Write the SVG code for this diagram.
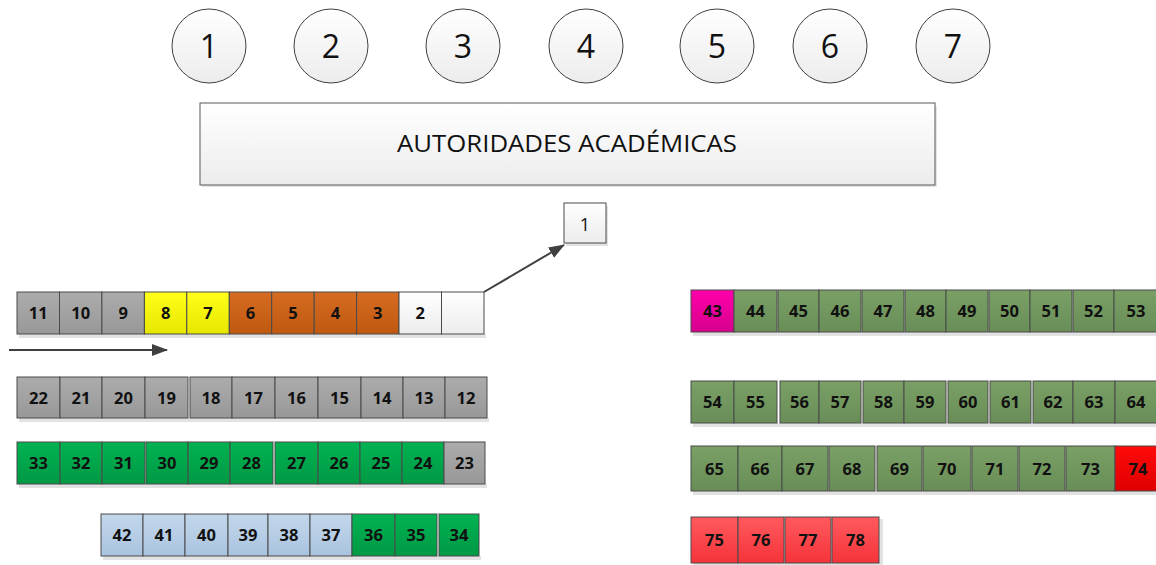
<svg xmlns="http://www.w3.org/2000/svg" width="1156" height="565" viewBox="0 0 1156 565">
<defs>
<linearGradient id="gW" x1="0" y1="0" x2="0" y2="1"><stop offset="0" stop-color="#ffffff"/><stop offset="1" stop-color="#ececec"/></linearGradient>
<linearGradient id="gGray" x1="0" y1="0" x2="0" y2="1"><stop offset="0" stop-color="#acacac"/><stop offset="1" stop-color="#989898"/></linearGradient>
<linearGradient id="gYel" x1="0" y1="0" x2="0" y2="1"><stop offset="0" stop-color="#ffff1a"/><stop offset="1" stop-color="#e6e600"/></linearGradient>
<linearGradient id="gOra" x1="0" y1="0" x2="0" y2="1"><stop offset="0" stop-color="#d66c22"/><stop offset="1" stop-color="#bf5810"/></linearGradient>
<linearGradient id="gGrn" x1="0" y1="0" x2="0" y2="1"><stop offset="0" stop-color="#00b352"/><stop offset="1" stop-color="#009944"/></linearGradient>
<linearGradient id="gOli" x1="0" y1="0" x2="0" y2="1"><stop offset="0" stop-color="#7aa066"/><stop offset="1" stop-color="#698d57"/></linearGradient>
<linearGradient id="gBlu" x1="0" y1="0" x2="0" y2="1"><stop offset="0" stop-color="#c3d7ec"/><stop offset="1" stop-color="#a9c3de"/></linearGradient>
<linearGradient id="gPink" x1="0" y1="0" x2="0" y2="1"><stop offset="0" stop-color="#ff00aa"/><stop offset="1" stop-color="#d6008e"/></linearGradient>
<linearGradient id="gRed" x1="0" y1="0" x2="0" y2="1"><stop offset="0" stop-color="#ff0a0a"/><stop offset="1" stop-color="#e00000"/></linearGradient>
<linearGradient id="gLRed" x1="0" y1="0" x2="0" y2="1"><stop offset="0" stop-color="#ff5a5e"/><stop offset="1" stop-color="#f5333a"/></linearGradient>
<marker id="ah" viewBox="0 0 16 12" refX="15" refY="6" markerWidth="16" markerHeight="12" orient="auto" markerUnits="userSpaceOnUse">
<path d="M0,0 L16,6 L0,12 Z" fill="#404040"/>
</marker>
</defs>
<style>
.c rect{stroke:#4a4a4a;stroke-width:1}
.c text{font-family:"Open Sans","Liberation Sans",sans-serif;font-weight:bold;font-size:16.5px;text-anchor:middle;fill:#111}
.circ circle{fill:url(#gW);stroke:#404040;stroke-width:1}
.circ text{font-family:"Open Sans","Liberation Sans",sans-serif;font-size:32px;text-anchor:middle;fill:#111}
.sh{fill:#e2e2e2}
.gray{fill:url(#gGray)} .yel{fill:url(#gYel)} .ora{fill:url(#gOra)} .grn{fill:url(#gGrn)} .oli{fill:url(#gOli)} .blu{fill:url(#gBlu)} .pink{fill:url(#gPink)} .red{fill:url(#gRed)} .lred{fill:url(#gLRed)} .wht{fill:url(#gW)}
.conn line{stroke:#404040;stroke-width:2}
</style>
<rect width="1156" height="565" fill="#ffffff"/>

<!-- circles -->
<g id="circle1" class="circ"><circle cx="209" cy="46" r="37"/><text x="209" y="58">1</text></g>
<g id="circle2" class="circ"><circle cx="331" cy="46" r="37"/><text x="331" y="58">2</text></g>
<g id="circle3" class="circ"><circle cx="463" cy="46" r="37"/><text x="463" y="58">3</text></g>
<g id="circle4" class="circ"><circle cx="586" cy="46" r="37"/><text x="586" y="58">4</text></g>
<g id="circle5" class="circ"><circle cx="717" cy="46" r="37"/><text x="717" y="58">5</text></g>
<g id="circle6" class="circ"><circle cx="830" cy="46" r="37"/><text x="830" y="58">6</text></g>
<g id="circle7" class="circ"><circle cx="953" cy="46" r="37"/><text x="953" y="58">7</text></g>

<!-- main box -->
<g id="autoridades">
<rect x="202" y="106" width="735" height="81" fill="#e4e4e4"/>
<rect x="200" y="103" width="735" height="82" fill="url(#gW)" stroke="#595959" stroke-width="1"/>
<text x="567" y="152" font-family="Open Sans, Liberation Sans, sans-serif" font-size="23" text-anchor="middle" fill="#111" textLength="340" lengthAdjust="spacingAndGlyphs">AUTORIDADES ACADÉMICAS</text>
</g>

<g id="box1" class="c">
<rect x="566" y="206" width="42" height="40" class="sh" style="stroke:none"/>
<rect x="564" y="203" width="42" height="40" class="wht"/>
<text x="585" y="231" style="font-weight:normal;font-size:18px">1</text>
</g>

<!-- row shadows -->
<g id="shadows">
<rect x="19" y="334" width="467" height="4" class="sh"/>
<rect x="19" y="418" width="470" height="4" class="sh"/>
<rect x="19" y="484" width="468" height="4" class="sh"/>
<rect x="103" y="556" width="378" height="4" class="sh"/>
<rect x="693" y="332" width="463" height="4" class="sh"/>
<rect x="693" y="423" width="463" height="4" class="sh"/>
<rect x="693" y="491" width="463" height="4" class="sh"/>
<rect x="693" y="563" width="190" height="2" class="sh"/>
<rect x="879" y="519" width="4" height="46" class="sh"/>
</g>

<!-- row 1 left -->
<g id="c11" class="c"><rect x="17" y="292" width="42.5" height="42" class="gray"/><text x="38.2" y="319">11</text></g>
<g id="c10" class="c"><rect x="59.5" y="292" width="42.4" height="42" class="gray"/><text x="80.7" y="319">10</text></g>
<g id="c9" class="c"><rect x="101.9" y="292" width="42.5" height="42" class="gray"/><text x="123.1" y="319">9</text></g>
<g id="c8" class="c"><rect x="144.4" y="292" width="42.4" height="42" class="yel"/><text x="165.6" y="319">8</text></g>
<g id="c7" class="c"><rect x="186.8" y="292" width="42.5" height="42" class="yel"/><text x="208" y="319">7</text></g>
<g id="c6" class="c"><rect x="229.3" y="292" width="42.4" height="42" class="ora"/><text x="250.5" y="319">6</text></g>
<g id="c5" class="c"><rect x="271.7" y="292" width="42.5" height="42" class="ora"/><text x="292.9" y="319">5</text></g>
<g id="c4" class="c"><rect x="314.2" y="292" width="42.4" height="42" class="ora"/><text x="335.4" y="319">4</text></g>
<g id="c3" class="c"><rect x="356.6" y="292" width="42.4" height="42" class="ora"/><text x="377.8" y="319">3</text></g>
<g id="c2" class="c"><rect x="399" y="292" width="42.5" height="42" class="wht"/><text x="420.2" y="319">2</text></g>
<g id="c1" class="c"><rect x="441.5" y="292" width="42.5" height="42" class="wht"/></g>

<!-- row 2 left -->
<g id="c22" class="c"><rect x="17" y="377" width="43" height="41" class="gray"/><text x="38.5" y="403.5">22</text></g>
<g id="c21" class="c"><rect x="60" y="377" width="42" height="41" class="gray"/><text x="81" y="403.5">21</text></g>
<g id="c20" class="c"><rect x="102" y="377" width="43" height="41" class="gray"/><text x="123.5" y="403.5">20</text></g>
<g id="c19" class="c"><rect x="145" y="377" width="43" height="41" class="gray"/><text x="166.5" y="403.5">19</text></g>
<g id="c18" class="c"><rect x="190" y="377" width="42" height="41" class="gray"/><text x="211" y="403.5">18</text></g>
<g id="c17" class="c"><rect x="232" y="377" width="43" height="41" class="gray"/><text x="253.5" y="403.5">17</text></g>
<g id="c16" class="c"><rect x="275" y="377" width="43" height="41" class="gray"/><text x="296.5" y="403.5">16</text></g>
<g id="c15" class="c"><rect x="318" y="377" width="43" height="41" class="gray"/><text x="339.5" y="403.5">15</text></g>
<g id="c14" class="c"><rect x="361" y="377" width="42" height="41" class="gray"/><text x="382" y="403.5">14</text></g>
<g id="c13" class="c"><rect x="403" y="377" width="42" height="41" class="gray"/><text x="424" y="403.5">13</text></g>
<g id="c12" class="c"><rect x="445" y="377" width="42" height="41" class="gray"/><text x="466" y="403.5">12</text></g>

<!-- row 3 left -->
<g id="c33" class="c"><rect x="17" y="442" width="43" height="42" class="grn"/><text x="38.5" y="469">33</text></g>
<g id="c32" class="c"><rect x="60" y="442" width="42" height="42" class="grn"/><text x="81" y="469">32</text></g>
<g id="c31" class="c"><rect x="102" y="442" width="43" height="42" class="grn"/><text x="123.5" y="469">31</text></g>
<g id="c30" class="c"><rect x="146" y="442" width="42" height="42" class="grn"/><text x="167" y="469">30</text></g>
<g id="c29" class="c"><rect x="188" y="442" width="42" height="42" class="grn"/><text x="209" y="469">29</text></g>
<g id="c28" class="c"><rect x="230" y="442" width="43" height="42" class="grn"/><text x="251.5" y="469">28</text></g>
<g id="c27" class="c"><rect x="275" y="442" width="43" height="42" class="grn"/><text x="296.5" y="469">27</text></g>
<g id="c26" class="c"><rect x="318" y="442" width="42" height="42" class="grn"/><text x="339" y="469">26</text></g>
<g id="c25" class="c"><rect x="360" y="442" width="42" height="42" class="grn"/><text x="381" y="469">25</text></g>
<g id="c24" class="c"><rect x="402" y="442" width="42" height="42" class="grn"/><text x="423" y="469">24</text></g>
<g id="c23" class="c"><rect x="444" y="442" width="41" height="42" class="gray"/><text x="464.5" y="469">23</text></g>

<!-- row 4 left -->
<g id="c42" class="c"><rect x="101" y="514" width="42" height="42" class="blu"/><text x="122" y="541">42</text></g>
<g id="c41" class="c"><rect x="143" y="514" width="42" height="42" class="blu"/><text x="164" y="541">41</text></g>
<g id="c40" class="c"><rect x="185" y="514" width="43" height="42" class="blu"/><text x="206.5" y="541">40</text></g>
<g id="c39" class="c"><rect x="228" y="514" width="40" height="42" class="blu"/><text x="248" y="541">39</text></g>
<g id="c38" class="c"><rect x="268" y="514" width="42" height="42" class="blu"/><text x="289" y="541">38</text></g>
<g id="c37" class="c"><rect x="310" y="514" width="42" height="42" class="blu"/><text x="331" y="541">37</text></g>
<g id="c36" class="c"><rect x="352" y="514" width="43" height="42" class="grn"/><text x="373.5" y="541">36</text></g>
<g id="c35" class="c"><rect x="395" y="514" width="42" height="42" class="grn"/><text x="416" y="541">35</text></g>
<g id="c34" class="c"><rect x="439" y="514" width="40" height="42" class="grn"/><text x="459" y="541">34</text></g>

<!-- row 1 right -->
<g id="c43" class="c"><rect x="691" y="290" width="43" height="42" class="pink"/><text x="712.5" y="317">43</text></g>
<g id="c44" class="c"><rect x="734" y="290" width="43" height="42" class="oli"/><text x="755.5" y="317">44</text></g>
<g id="c45" class="c"><rect x="778" y="290" width="41" height="42" class="oli"/><text x="798.5" y="317">45</text></g>
<g id="c46" class="c"><rect x="819" y="290" width="42" height="42" class="oli"/><text x="840" y="317">46</text></g>
<g id="c47" class="c"><rect x="862" y="290" width="42" height="42" class="oli"/><text x="883" y="317">47</text></g>
<g id="c48" class="c"><rect x="905" y="290" width="41" height="42" class="oli"/><text x="925.5" y="317">48</text></g>
<g id="c49" class="c"><rect x="946" y="290" width="42" height="42" class="oli"/><text x="967" y="317">49</text></g>
<g id="c50" class="c"><rect x="989" y="290" width="41" height="42" class="oli"/><text x="1009.5" y="317">50</text></g>
<g id="c51" class="c"><rect x="1030" y="290" width="42" height="42" class="oli"/><text x="1051" y="317">51</text></g>
<g id="c52" class="c"><rect x="1073" y="290" width="41" height="42" class="oli"/><text x="1093.5" y="317">52</text></g>
<g id="c53" class="c"><rect x="1114" y="290" width="43" height="42" class="oli"/><text x="1136" y="317">53</text></g>

<!-- row 2 right -->
<g id="c54" class="c"><rect x="691" y="381" width="43" height="42" class="oli"/><text x="712.5" y="408">54</text></g>
<g id="c55" class="c"><rect x="734" y="381" width="43" height="42" class="oli"/><text x="755.5" y="408">55</text></g>
<g id="c56" class="c"><rect x="780" y="381" width="39" height="42" class="oli"/><text x="799.5" y="408">56</text></g>
<g id="c57" class="c"><rect x="819" y="381" width="42" height="42" class="oli"/><text x="840" y="408">57</text></g>
<g id="c58" class="c"><rect x="863" y="381" width="41" height="42" class="oli"/><text x="883.5" y="408">58</text></g>
<g id="c59" class="c"><rect x="904" y="381" width="42" height="42" class="oli"/><text x="925" y="408">59</text></g>
<g id="c60" class="c"><rect x="948" y="381" width="40" height="42" class="oli"/><text x="968" y="408">60</text></g>
<g id="c61" class="c"><rect x="990" y="381" width="41" height="42" class="oli"/><text x="1010.5" y="408">61</text></g>
<g id="c62" class="c"><rect x="1033" y="381" width="40" height="42" class="oli"/><text x="1053" y="408">62</text></g>
<g id="c63" class="c"><rect x="1073" y="381" width="42" height="42" class="oli"/><text x="1094" y="408">63</text></g>
<g id="c64" class="c"><rect x="1115" y="381" width="42" height="42" class="oli"/><text x="1136" y="408">64</text></g>

<!-- row 3 right -->
<g id="c65" class="c"><rect x="691" y="446" width="47" height="45" class="oli"/><text x="714.5" y="474.5">65</text></g>
<g id="c66" class="c"><rect x="738" y="446" width="44" height="45" class="oli"/><text x="760" y="474.5">66</text></g>
<g id="c67" class="c"><rect x="782" y="446" width="46" height="45" class="oli"/><text x="805" y="474.5">67</text></g>
<g id="c68" class="c"><rect x="829" y="446" width="46" height="45" class="oli"/><text x="852" y="474.5">68</text></g>
<g id="c69" class="c"><rect x="877" y="446" width="45" height="45" class="oli"/><text x="899.5" y="474.5">69</text></g>
<g id="c70" class="c"><rect x="923" y="446" width="48" height="45" class="oli"/><text x="947" y="474.5">70</text></g>
<g id="c71" class="c"><rect x="972" y="446" width="46" height="45" class="oli"/><text x="995" y="474.5">71</text></g>
<g id="c72" class="c"><rect x="1019" y="446" width="46" height="45" class="oli"/><text x="1042" y="474.5">72</text></g>
<g id="c73" class="c"><rect x="1066" y="446" width="49" height="45" class="oli"/><text x="1090.5" y="474.5">73</text></g>
<g id="c74" class="c"><rect x="1115" y="446" width="47" height="45" class="red"/><text x="1138" y="474.5">74</text></g>

<!-- row 4 right -->
<g id="c75" class="c"><rect x="691" y="517" width="47" height="46" class="lred"/><text x="714.5" y="546">75</text></g>
<g id="c76" class="c"><rect x="738" y="517" width="46" height="46" class="lred"/><text x="761" y="546">76</text></g>
<g id="c77" class="c"><rect x="785" y="517" width="46" height="46" class="lred"/><text x="808" y="546">77</text></g>
<g id="c78" class="c"><rect x="832" y="517" width="47" height="46" class="lred"/><text x="855.5" y="546">78</text></g>

<!-- connectors -->
<g id="connectors" class="conn">
<line x1="484" y1="292" x2="564" y2="245" marker-end="url(#ah)"/>
<line x1="9" y1="350" x2="167" y2="350" marker-end="url(#ah)"/>
</g>
</svg>
